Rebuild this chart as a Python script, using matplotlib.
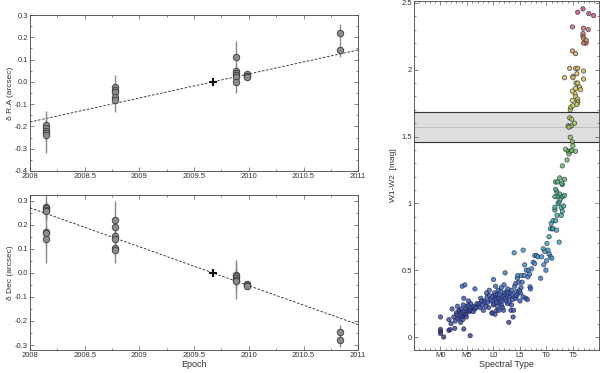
import numpy as np
import matplotlib
matplotlib.use("Agg")
import matplotlib.pyplot as plt
from matplotlib.colors import LinearSegmentedColormap
from matplotlib.ticker import MultipleLocator, FixedLocator, FuncFormatter

plt.rcParams['font.family'] = ['Liberation Sans', 'DejaVu Sans']
plt.rcParams['font.size'] = 6

# astrometry: epochs, offsets and errors (arcsec)
ra_epoch = [2008.15] * 5 + [2008.78] * 5 + [2009.88] * 6 + [2009.98] * 3 + [2010.83] * 2
ra_off = [-0.195, -0.205, -0.22, -0.23, -0.24,
          -0.025, -0.035, -0.045, -0.07, -0.08,
          0.11, 0.05, 0.04, 0.03, 0.02, 0.0,
          0.035, 0.025, 0.02,
          0.22, 0.145]
ra_err = [0.065, 0.03, 0.03, 0.03, 0.08,
          0.055, 0.03, 0.03, 0.03, 0.055,
          0.075, 0.03, 0.03, 0.03, 0.03, 0.05,
          0.01, 0.01, 0.01,
          0.04, 0.035]

dec_epoch = [2008.15] * 7 + [2008.78] * 6 + [2009.88] * 5 + [2009.98] * 3 + [2010.83] * 2
dec_off = [0.275, 0.27, 0.262, 0.255, 0.17, 0.165, 0.14,
           0.22, 0.19, 0.155, 0.14, 0.105, 0.095,
           -0.01, -0.015, -0.02, -0.03, -0.035,
           -0.045, -0.05, -0.055,
           -0.245, -0.28]
dec_err = [0.06, 0.03, 0.03, 0.03, 0.03, 0.125, 0.03,
           0.08, 0.03, 0.03, 0.03, 0.03, 0.055,
           0.065, 0.03, 0.03, 0.03, 0.075,
           0.012, 0.012, 0.012,
           0.03, 0.03]

ref_epoch = 2009.67
pm_ra = 0.1078
pm_dec = -0.1617

# W1-W2 vs spectral type (M0 = 0, L0 = 10, T0 = 20)
spt = [0, 0, 0, 0, 0.6, 1.6, 1.8, 1.6, 2, 2.2, 2.5, 2.7, 2.8, 3, 3.1, 3.2, 3.3, 3.5, 3.6, 3.8, 3.7,
       4, 4, 4, 4.1, 4.2, 4.3, 4.4, 4.5, 4.6, 4.4, 4.4, 4.7, 4.8, 4.8, 4.9, 5.0, 5.2, 5.3, 5.3, 5.5,
       5.6, 5.6, 5.7, 5.9, 6.1, 6.2, 6.3, 6.5, 6.5, 6.7, 6.9, 7.2, 7.3, 7.5, 7.6, 7.8, 7.9,
       8.1, 8.3, 8.4, 8.6, 8.7, 8.8, 8.9, 9.1, 9.2, 9.3, 9.4, 9.6, 9.7, 9.8, 9.9,
       10, 10, 10.1, 10.2, 10.3, 10.3, 10.4, 10.4, 10.5, 10.6, 10.6, 10.7, 10.8, 10.9,
       11, 11, 11.1, 11.2, 11.3, 11.4, 11.5, 11.5, 11.6, 11.7, 11.8, 11.9,
       12, 12, 12.1, 12.2, 12.3, 12.4, 12.5, 12.6, 12.7, 12.7, 12.8, 12.9,
       13, 13.1, 13.2, 13.3, 13.4, 13.4, 13.5, 13.6, 13.7, 13.8, 13.9,
       14, 14.1, 14.2, 14.2, 14.3, 14.4, 14.5, 14.6, 14.7, 14.8, 14.9,
       15, 15.1, 15.2, 15.3, 15.4, 15.6, 15.6, 15.8, 15.9, 16.1, 16.2, 16.4, 16.5, 16.6, 16.8,
       16.9, 17, 17.2, 17.5, 17.8, 17.8, 18.1, 18.4, 18.9, 19.1, 19.4, 19.5, 19.7, 19.9,
       20, 20.1, 20.3, 20.5, 20.75, 21, 20.5, 20.75, 20.9, 21.1, 21.25, 21.25, 21.6, 21.6,
       21.75, 21.9, 22, 22.2, 22.4, 22.4, 22.5, 22.6, 22.8, 23, 23.1, 23.25, 23.4, 22.8,
       21.7, 23.0, 21.9, 22.1, 21.6, 21.75, 22.9, 22.1, 23.4, 22.5, 23.0, 23.9,
       23.6, 24.1, 24.5, 24.25, 25.5, 24.75, 24.5, 24.9, 25.0,
       24.4, 24.75, 24.1, 24.4, 24.7, 25.3, 24.25,
       24.5, 24.6, 25.0, 24.9, 25.4, 25.5, 25.9, 24.9, 25.9, 25.9, 25.75,
       25.6, 25.9, 26.25, 26.4, 25.5,
       23.4, 25.0, 25.0, 27.0, 24.4, 25.5, 25.9, 25.75, 27.0,
       24.9, 25.5, 26.9, 26.9, 27.0, 27.2, 27.5, 27.0, 27.5,
       24.9, 27.0, 27.9, 25.9, 26.9, 28.0, 28.9]
w1w2 = [0.15, 0.057, 0.04, 0.027, 0.0, 0.05, 0.055, 0.13, 0.1, 0.21, 0.15, 0.065, 0.12, 0.18, 0.165, 0.23, 0.14, 0.2, 0.15, 0.11, 0.19,
        0.21, 0.18, 0.15, 0.38, 0.13, 0.24, 0.19, 0.16, 0.39, 0.29, 0.06, 0.17, 0.21, 0.17, 0.15, 0.23, 0.2, 0.27, 0.24, 0.19,
        0.01, 0.2, 0.25, 0.21, 0.22, 0.19, 0.23, 0.36, 0.21, 0.22, 0.25, 0.24, 0.25, 0.22, 0.29, 0.27, 0.24,
        0.2, 0.27, 0.26, 0.23, 0.33, 0.3, 0.26, 0.22, 0.35, 0.31, 0.28, 0.27, 0.18, 0.18, 0.3,
        0.24, 0.43, 0.25, 0.33, 0.31, 0.17, 0.38, 0.29, 0.28, 0.26, 0.2, 0.32, 0.23, 0.35,
        0.29, 0.2, 0.32, 0.26, 0.28, 0.34, 0.24, 0.37, 0.27, 0.22, 0.3, 0.2,
        0.31, 0.39, 0.33, 0.48, 0.29, 0.27, 0.34, 0.25, 0.33, 0.36, 0.3, 0.11,
        0.26, 0.3, 0.33, 0.2, 0.35, 0.24, 0.32, 0.28, 0.15, 0.2, 0.63,
        0.38, 0.3, 0.29, 0.4, 0.34, 0.31, 0.44, 0.46, 0.33, 0.41, 0.35,
        0.27, 0.33, 0.37, 0.46, 0.41, 0.65, 0.3, 0.46, 0.54, 0.29, 0.5, 0.28, 0.45, 0.5, 0.47,
        0.375, 0.36, 0.51, 0.56, 0.61, 0.55, 0.61, 0.6, 0.44, 0.6, 0.66, 0.54, 0.64, 0.5,
        0.57, 0.7, 0.65, 0.62, 0.6, 0.59, 0.75, 0.81, 0.85, 0.81, 0.81, 0.87, 0.95, 0.97,
        0.87, 0.8, 0.91, 1.0, 1.01, 0.71, 1.07, 1.03, 0.97, 0.94, 1.05, 0.98, 1.06, 0.91,
        1.16, 1.14, 1.09, 1.05, 1.05, 1.105, 1.15, 1.16, 1.18, 1.19, 1.28, 1.325,
        1.405, 1.39, 1.39, 1.37, 1.39, 1.395, 1.495, 1.46, 1.43,
        1.64, 1.63, 1.58, 1.575, 1.58, 1.6, 1.57,
        1.7, 1.72, 1.73, 1.77, 1.82, 1.8, 1.78, 1.84, 1.76, 1.75, 1.74,
        1.9, 1.9, 1.87, 1.85, 1.86,
        1.94, 1.95, 1.94, 1.93, 2.01, 2.01, 2.01, 1.97, 1.99,
        2.14, 2.12, 2.27, 2.25, 2.235, 2.2, 2.2, 2.2, 2.22,
        2.32, 2.31, 2.30, 2.43, 2.455, 2.42, 2.405]

band_mid = 1.57
band_half = 0.11

spt_ticks = [0, 5, 10, 15, 20, 25]
spt_labels = ['M0', 'M5', 'L0', 'L5', 'T0', 'T5']

cmap = LinearSegmentedColormap.from_list(
    'sp', [(0.0, '#3a3488'), (0.12, '#3458b8'), (0.22, '#3a8cc8'), (0.30, '#38aab0'),
           (0.42, '#38b07a'), (0.58, '#70bf48'), (0.72, '#d6d640'), (0.86, '#d8a040'),
           (1.0, '#c84860')])

fig = plt.figure(figsize=(6.0, 3.73), dpi=100)
ax1 = fig.add_axes([0.05, 0.5416, 0.547, 0.418])
ax2 = fig.add_axes([0.05, 0.062, 0.547, 0.415])
ax3 = fig.add_axes([0.69, 0.0617, 0.309, 0.936])

txt = '#333333'


def style(ax):
    ax.tick_params(which='both', direction='in', top=True, right=True,
                   colors='#555555', labelcolor=txt, labelsize=5.5, width=0.5, pad=1.5)
    ax.tick_params(which='major', length=3)
    ax.tick_params(which='minor', length=1.5)
    for s in ax.spines.values():
        s.set_linewidth(0.6)
        s.set_color('#444444')


for ax, ep, off, err, pm, lim, lab in [
        (ax1, ra_epoch, ra_off, ra_err, pm_ra, (-0.4, 0.3), 'δ R.A (arcsec)'),
        (ax2, dec_epoch, dec_off, dec_err, pm_dec, (-0.32, 0.323), 'δ Dec (arcsec)')]:
    xx = np.array([2008.0, 2011.0])
    ax.plot(xx, pm * (xx - ref_epoch), ls=(0, (3, 2)), color='#222222', lw=0.6, zorder=1)
    ax.errorbar(ep, off, yerr=err, fmt='none', ecolor='#8a8a8a', elinewidth=1.0, zorder=2)
    ax.scatter(ep, off, s=22, facecolor='#8c8c8c', edgecolor='#3a3a3a', linewidth=0.6, zorder=3)
    ax.plot([ref_epoch], [0], marker='+', ms=6, mew=1.5, color='#111111', zorder=4)
    ax.set_xlim(2008, 2011)
    ax.set_ylim(*lim)
    ax.xaxis.set_major_locator(MultipleLocator(0.5))
    ax.xaxis.set_minor_locator(MultipleLocator(0.25))
    ax.yaxis.set_major_locator(MultipleLocator(0.1))
    ax.yaxis.set_minor_locator(MultipleLocator(0.05))
    ax.xaxis.set_major_formatter(FuncFormatter(lambda v, p: f'{v:g}'))
    ax.yaxis.set_major_formatter(FuncFormatter(lambda v, p: f'{v:.1f}'))
    ax.set_ylabel(lab, fontsize=6, color=txt, labelpad=1)
    style(ax)

ax2.set_xlabel('Epoch', fontsize=6.5, color=txt, labelpad=0.5)

ax3.axhspan(band_mid - band_half, band_mid + band_half, color='#dedede', zorder=0)
ax3.axhline(band_mid - band_half, color='#333333', lw=0.8, zorder=1)
ax3.axhline(band_mid + band_half, color='#333333', lw=0.8, zorder=1)
ax3.axhline(band_mid, color='#bbbbbb', lw=0.6, zorder=1)
ax3.scatter(spt, w1w2, c=w1w2, cmap=cmap, vmin=0, vmax=2.45, s=10,
            edgecolor='#222244', linewidth=0.5, alpha=0.8, zorder=3)
ax3.set_xlim(-5, 30)
ax3.set_ylim(-0.097, 2.515)
ax3.xaxis.set_major_locator(FixedLocator(spt_ticks))
ax3.set_xticklabels(spt_labels)
ax3.xaxis.set_minor_locator(MultipleLocator(1))
ax3.yaxis.set_major_locator(MultipleLocator(0.5))
ax3.yaxis.set_minor_locator(MultipleLocator(0.1))
ax3.yaxis.set_major_formatter(FuncFormatter(lambda v, p: f'{v:g}'))
ax3.set_ylabel('W1-W2  [mag]', fontsize=6, color=txt, labelpad=3)
ax3.set_xlabel('Spectral Type', fontsize=6.5, color=txt, labelpad=0.5)
style(ax3)

fig.savefig('out.png', dpi=100)
